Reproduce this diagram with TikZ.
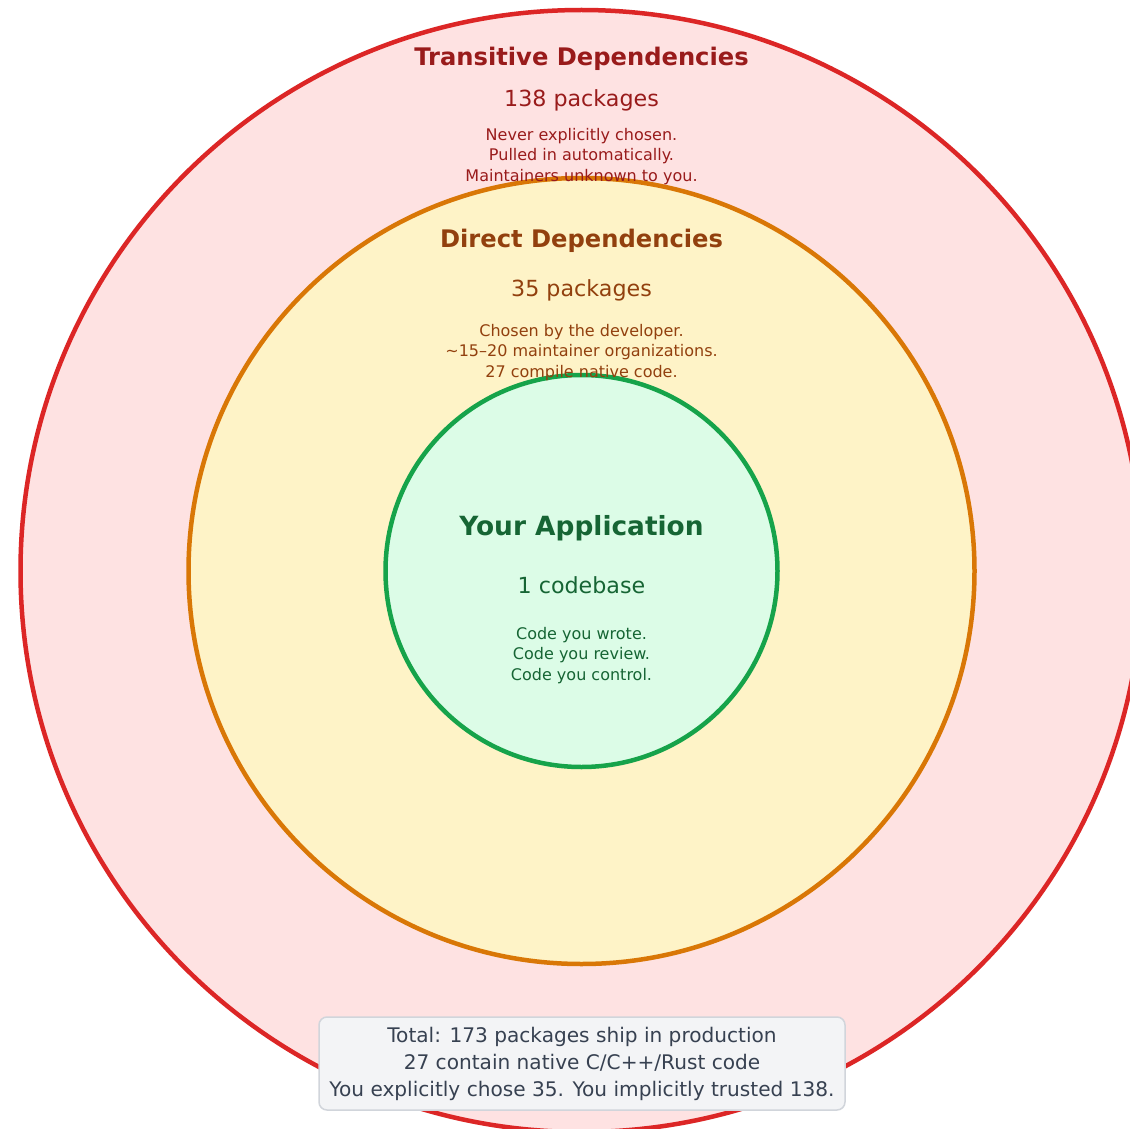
\documentclass[tikz,border=0pt]{standalone}
\usepackage{fontspec}
\setmainfont{DejaVu Sans}
\definecolor{redfill}{HTML}{FEE2E2}
\definecolor{redline}{HTML}{DC2626}
\definecolor{redtext}{HTML}{991B1B}
\definecolor{ambfill}{HTML}{FEF3C7}
\definecolor{ambline}{HTML}{D97706}
\definecolor{ambtext}{HTML}{92400E}
\definecolor{grnfill}{HTML}{DCFCE7}
\definecolor{grnline}{HTML}{16A34A}
\definecolor{grntext}{HTML}{166534}
\definecolor{boxfill}{HTML}{F3F4F6}
\definecolor{boxline}{HTML}{D1D5DB}
\definecolor{boxtext}{HTML}{374151}
\begin{document}
\begin{tikzpicture}[x=1pt,y=-1pt,
  ring/.style={circle,line width=4.5pt,inner sep=0pt},
  ttl/.style={font=\fontsize{24.2}{28}\selectfont\bfseries,anchor=center,inner sep=0pt},
  bigttl/.style={font=\fontsize{26.4}{30}\selectfont\bfseries,anchor=center,inner sep=0pt},
  cnt/.style={font=\fontsize{22.2}{26}\selectfont,anchor=center,inner sep=0pt},
  desc/.style={font=\fontsize{16}{20.5}\selectfont,align=center,anchor=center,inner sep=0pt},
  footbox/.style={draw=boxline,fill=boxfill,line width=1.5pt,rounded corners=8pt,text=boxtext,align=center,
    font=\fontsize{20.1}{27}\selectfont,minimum width=526pt,minimum height=93pt,inner sep=0pt}
]
\useasboundingbox (0,0) rectangle (1130,1129);
\begin{scope}
\clip (0,0) rectangle (1130,1129);
\fill[white] (0,0) rectangle (1130,1129);
\node[ring,draw=redline,fill=redfill,minimum size=1122pt] (outer) at (581.5,571) {};
\node[ring,draw=ambline,fill=ambfill,minimum size=786pt] (middle) at (581.5,571) {};
\node[ring,draw=grnline,fill=grnfill,minimum size=392pt] (inner) at (581.5,571) {};
\end{scope}
% outer texts
\node[ttl,text=redtext] (t1) at (581.5,58.5) {Transitive Dependencies};
\node[cnt,text=redtext] (c1) at (581.5,100.5) {138 packages};
\node[desc,text=redtext] (d1) at (581.5,156.5) {Never explicitly chosen.\\Pulled in automatically.\\Maintainers unknown to you.};
% middle texts
\node[ttl,text=ambtext] (t2) at (581.5,240.5) {Direct Dependencies};
\node[cnt,text=ambtext] (c2) at (581.5,290.5) {35 packages};
\node[desc,text=ambtext] (d2) at (581.5,352.5) {Chosen by the developer.\\\textasciitilde15–20 maintainer organizations.\\27 compile native code.};
% inner texts
\node[bigttl,text=grntext] (t3) at (581.5,528.5) {Your Application};
\node[cnt,text=grntext] (c3) at (581.5,585.5) {1 codebase};
\node[desc,text=grntext] (d3) at (581.5,655.5) {Code you wrote.\\Code you review.\\Code you control.};
% footer
\node[footbox] (foot) at (582,1063.5) {Total: 173 packages ship in production\\27 contain native C/C++/Rust code\\You explicitly chose 35. You implicitly trusted 138.};
\end{tikzpicture}
\end{document}
